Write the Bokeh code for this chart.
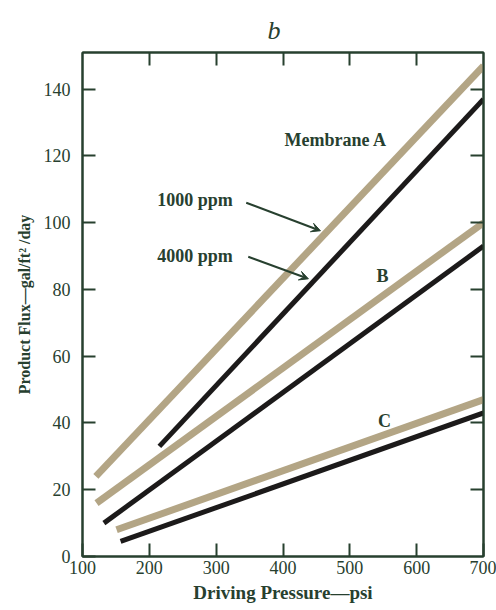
from bokeh.plotting import figure
from bokeh.models import Range1d, LinearAxis, Label, Arrow, VeeHead, FixedTicker
from bokeh.embed import file_html
from bokeh.resources import INLINE

# Data
pressure_A_1000 = [120, 700]
flux_A_1000 = [24, 147]
pressure_A_4000 = [215, 700]
flux_A_4000 = [33, 137]
pressure_B_1000 = [121, 700]
flux_B_1000 = [16, 100]
pressure_B_4000 = [132, 700]
flux_B_4000 = [10, 93]
pressure_C_1000 = [151, 700]
flux_C_1000 = [8, 47]
pressure_C_4000 = [157, 700]
flux_C_4000 = [4.5, 43]

x_ticks = [100, 200, 300, 400, 500, 600, 700]
y_ticks = [0, 20, 40, 60, 80, 100, 120, 140]

TAN = "#b3a585"
BLACK = "#1c1a1a"
INK = "#27402f"
FONT = "Liberation Serif"

p = figure(width=496, height=610, output_backend="svg", toolbar_location=None,
           x_range=Range1d(100, 700), y_range=Range1d(0, 151),
           min_border_left=82, min_border_right=13, min_border_top=52, min_border_bottom=54,
           x_axis_location=None, y_axis_location=None)
p.grid.visible = False
p.outline_line_color = INK
p.outline_line_width = 2
p.background_fill_color = "white"
p.border_fill_color = "white"

p.title.text = "b"
p.title.text_font = FONT
p.title.text_font_size = "26px"
p.title.text_font_style = "italic"
p.title.text_color = INK
p.title.align = "left"
p.title.offset = 185
p.title.standoff = 4
p.title.vertical_align = "middle"

def style_axis(ax, labels=True):
    ax.axis_line_color = INK
    ax.axis_line_width = 2
    ax.major_tick_line_color = INK
    ax.major_tick_line_width = 2
    ax.major_tick_in = 13
    ax.major_tick_out = 0
    ax.minor_tick_line_color = None
    ax.major_label_text_font = FONT
    ax.major_label_text_font_size = "18px"
    ax.major_label_text_color = INK
    if not labels:
        ax.major_label_overrides = {t: " " for t in ax.ticker.ticks}
        ax.major_label_text_font_size = "2px"
        ax.major_label_standoff = 0

xb = LinearAxis(ticker=FixedTicker(ticks=x_ticks), axis_label="Driving Pressure\u2014psi")
style_axis(xb)
xb.major_label_standoff = 4
xb.axis_label_standoff = 5
xb.axis_label_text_font = FONT
xb.axis_label_text_font_size = "19px"
xb.axis_label_text_font_style = "bold"
xb.axis_label_text_color = INK
p.add_layout(xb, "below")

xt = LinearAxis(ticker=FixedTicker(ticks=x_ticks[1:-1]))
style_axis(xt, labels=False)
p.add_layout(xt, "above")

yl = LinearAxis(ticker=FixedTicker(ticks=y_ticks), axis_label="Product Flux\u2014gal/ft\u00b2 /day")
style_axis(yl)
yl.major_label_standoff = 12
yl.axis_label_standoff = 8
yl.axis_label_text_font = FONT
yl.axis_label_text_font_size = "16px"
yl.axis_label_text_font_style = "bold"
yl.axis_label_text_color = INK
p.add_layout(yl, "left")

yr = LinearAxis(ticker=FixedTicker(ticks=y_ticks[1:]))
style_axis(yr, labels=False)
p.add_layout(yr, "right")

for xs, ys, c, w in [
    (pressure_A_1000, flux_A_1000, TAN, 7),
    (pressure_A_4000, flux_A_4000, BLACK, 5),
    (pressure_B_1000, flux_B_1000, TAN, 7),
    (pressure_B_4000, flux_B_4000, BLACK, 5),
    (pressure_C_1000, flux_C_1000, TAN, 7),
    (pressure_C_4000, flux_C_4000, BLACK, 5),
]:
    p.line(xs, ys, line_color=c, line_width=w, line_cap="butt")

def lab(x, y, t, size="18px", align="left", style="bold"):
    p.add_layout(Label(x=x, y=y, text=t, text_font=FONT, text_font_size=size,
                       text_color=INK, text_align=align, text_baseline="middle",
                       text_font_style=style))

lab(479, 124.8, "Membrane A", align="center")
lab(212, 106.9, "1000 ppm")
lab(212, 90.1, "4000 ppm")
lab(549, 84.1, "B", align="center")
lab(552, 40.7, "C", align="center")

for x0, y0, x1, y1 in [(345, 106.0, 456, 97.6), (348, 89.8, 438, 83.2)]:
    p.add_layout(Arrow(x_start=x0, y_start=y0, x_end=x1, y_end=y1,
                       line_color=INK, line_width=2,
                       end=VeeHead(size=9, fill_color=INK, line_color=INK)))

open("out.html", "w").write(file_html(p, INLINE))
